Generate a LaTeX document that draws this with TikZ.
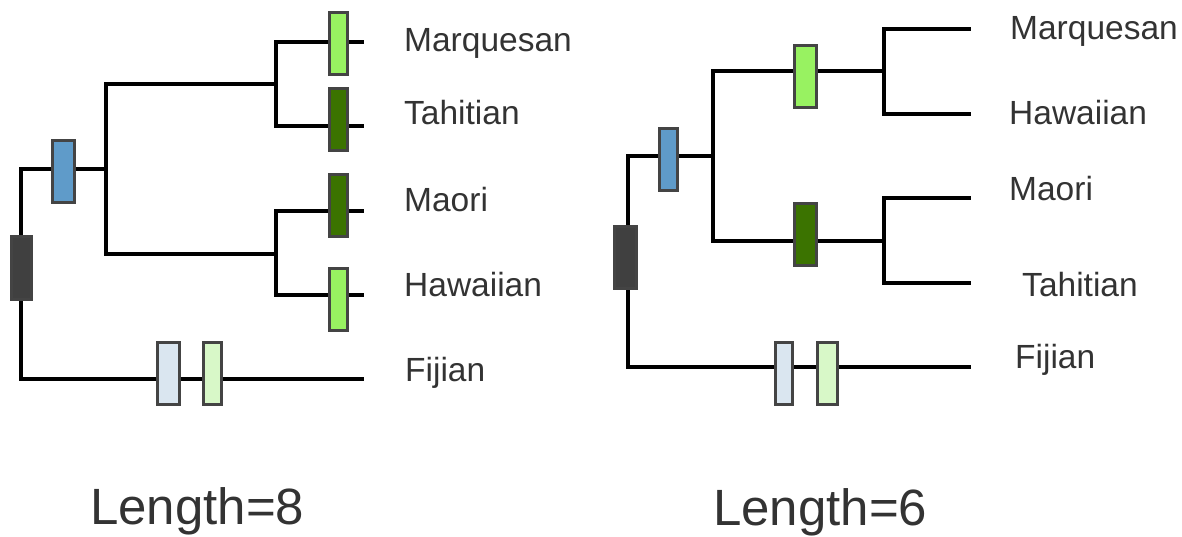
\documentclass[tikz,border=0pt]{standalone}
\usepackage{fontspec}
\setmainfont{Liberation Sans}
\definecolor{boxedge}{HTML}{444444}
\definecolor{rootgray}{HTML}{404040}
\definecolor{steelblue}{HTML}{5F9BC9}
\definecolor{lightgreen}{HTML}{98F261}
\definecolor{darkgreen}{HTML}{3B7300}
\definecolor{paleblue}{HTML}{DAE6F0}
\definecolor{palegreen}{HTML}{D8F8C8}
\definecolor{labelgray}{HTML}{333333}
\tikzset{
  branch/.style={line width=3.4pt, black, line cap=rect},
  mutbox/.style={rectangle, draw=boxedge, line width=3pt, inner sep=0pt,
                 minimum width=#1, minimum height=62pt},
  mutbox/.default=22pt,
  taxon/.style={anchor=base west, inner sep=0pt, text=labelgray,
                font=\fontsize{33.5}{38}\selectfont},
  score/.style={anchor=base west, inner sep=0pt, text=labelgray,
                font=\fontsize{51}{58}\selectfont}
}
\begin{document}
\begin{tikzpicture}[x=1pt,y=-1pt]
\useasboundingbox (0,0) rectangle (1182,537);

% ---------------- tree of length 8 ----------------
\coordinate (a-root-top) at (21,169);
\coordinate (a-root-bot) at (21,379);
\coordinate (a-in) at (106,169);
\coordinate (a-in-top) at (106,84);
\coordinate (a-in-bot) at (106,254);
\coordinate (a-up) at (276,84);
\coordinate (a-up-top) at (276,42);
\coordinate (a-up-bot) at (276,126);
\coordinate (a-lo) at (276,254);
\coordinate (a-lo-top) at (276,211);
\coordinate (a-lo-bot) at (276,295);
\coordinate (a-marq) at (362,42);
\coordinate (a-tahi) at (362,126);
\coordinate (a-maor) at (362,211);
\coordinate (a-hawa) at (362,295);
\coordinate (a-fiji) at (362,379);

\draw[branch] (a-root-top) -- (a-root-bot);
\draw[branch] (a-root-top) -- (a-in);
\draw[branch] (a-in-top) -- (a-in-bot);
\draw[branch] (a-in-top) -- (a-up);
\draw[branch] (a-in-bot) -- (a-lo);
\draw[branch] (a-up-top) -- (a-up-bot);
\draw[branch] (a-lo-top) -- (a-lo-bot);
\draw[branch] (a-up-top) -- (a-marq);
\draw[branch] (a-up-bot) -- (a-tahi);
\draw[branch] (a-lo-top) -- (a-maor);
\draw[branch] (a-lo-bot) -- (a-hawa);
\draw[branch] (a-root-bot) -- (a-fiji);

\node[mutbox=20pt, fill=rootgray]   (a-b-root) at (21,268) {};
\node[mutbox=22pt, fill=steelblue]  (a-b-blue) at (63.5,171.5) {};
\node[mutbox=18pt, fill=lightgreen] (a-b-marq) at (338.5,43.5) {};
\node[mutbox=18pt, fill=darkgreen]  (a-b-tahi) at (338.5,119.5) {};
\node[mutbox=18pt, fill=darkgreen]  (a-b-maor) at (338.5,205.5) {};
\node[mutbox=18pt, fill=lightgreen] (a-b-hawa) at (338.5,299) {};
\node[mutbox=22pt, fill=paleblue]   (a-b-fj1) at (168.5,373.5) {};
\node[mutbox=18pt, fill=palegreen]  (a-b-fj2) at (212.5,373.5) {};

\node[taxon] (a-t-marq) at (404,52)  {Marquesan};
\node[taxon] (a-t-tahi) at (404,125) {Tahitian};
\node[taxon] (a-t-maor) at (404,212) {Maori};
\node[taxon] (a-t-hawa) at (404,296) {Hawaiian};
\node[taxon] (a-t-fiji) at (405,381) {Fijian};

\node[score] (a-score) at (90,524) {Length=8};

% ---------------- tree of length 6 ----------------
\coordinate (b-root-top) at (628,156);
\coordinate (b-root-bot) at (628,367);
\coordinate (b-in) at (713,156);
\coordinate (b-in-top) at (713,71);
\coordinate (b-in-bot) at (713,241);
\coordinate (b-up) at (884,71);
\coordinate (b-up-top) at (884,29);
\coordinate (b-up-bot) at (884,114);
\coordinate (b-lo) at (884,241);
\coordinate (b-lo-top) at (884,198);
\coordinate (b-lo-bot) at (884,283);
\coordinate (b-marq) at (969,29);
\coordinate (b-hawa) at (969,114);
\coordinate (b-maor) at (969,198);
\coordinate (b-tahi) at (969,283);
\coordinate (b-fiji) at (969,367);

\draw[branch] (b-root-top) -- (b-root-bot);
\draw[branch] (b-root-top) -- (b-in);
\draw[branch] (b-in-top) -- (b-in-bot);
\draw[branch] (b-in-top) -- (b-up);
\draw[branch] (b-in-bot) -- (b-lo);
\draw[branch] (b-up-top) -- (b-up-bot);
\draw[branch] (b-lo-top) -- (b-lo-bot);
\draw[branch] (b-up-top) -- (b-marq);
\draw[branch] (b-up-bot) -- (b-hawa);
\draw[branch] (b-lo-top) -- (b-maor);
\draw[branch] (b-lo-bot) -- (b-tahi);
\draw[branch] (b-root-bot) -- (b-fiji);

\node[mutbox=22pt, fill=rootgray]   (b-b-root) at (625.5,257.5) {};
\node[mutbox=18pt, fill=steelblue]  (b-b-blue) at (668.5,160) {};
\node[mutbox=22pt, fill=lightgreen] (b-b-up) at (805.5,76.5) {};
\node[mutbox=22pt, fill=darkgreen]  (b-b-lo) at (805.5,234.5) {};
\node[mutbox=17pt, fill=paleblue]   (b-b-fj1) at (784,373.5) {};
\node[mutbox=20pt, fill=palegreen]  (b-b-fj2) at (827.5,373.5) {};

\node[taxon] (b-t-marq) at (1010,40)  {Marquesan};
\node[taxon] (b-t-hawa) at (1009,125) {Hawaiian};
\node[taxon] (b-t-maor) at (1009,201) {Maori};
\node[taxon] (b-t-tahi) at (1022,296) {Tahitian};
\node[taxon] (b-t-fiji) at (1015,368) {Fijian};

\node[score] (b-score) at (713,525) {Length=6};
\end{tikzpicture}
\end{document}
